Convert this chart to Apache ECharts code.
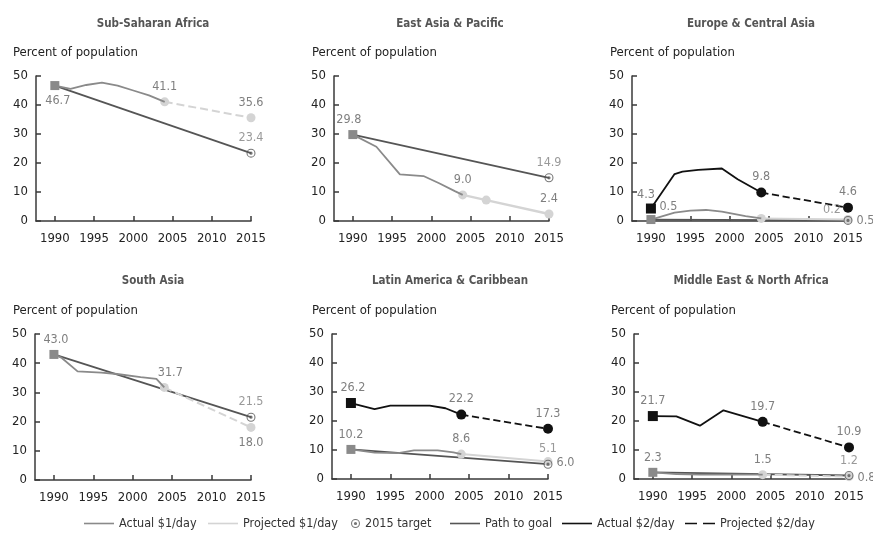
<!DOCTYPE html>
<html>
<head>
<meta charset="utf-8">
<script src="https://cdn.jsdelivr.net/npm/echarts@6/dist/echarts.min.js"></script>
<style>
html,body{margin:0;padding:0;background:#fff;}
#chart{width:873px;height:533px;}
</style>
</head>
<body>
<div id="chart"></div>
<script>
// ---------- DATA ----------
const panelTitles = ['Sub-Saharan Africa','East Asia & Pacific','Europe & Central Asia','South Asia','Latin America & Caribbean','Middle East & North Africa'];
const yAxisTitle = 'Percent of population';
const xTickYears = [1990, 1995, 2000, 2005, 2010, 2015];
const yTicks = [0, 10, 20, 30, 40, 50];
const legendNames = ['Actual $1/day','Projected $1/day','2015 target','Path to goal','Actual $2/day','Projected $2/day'];

// Sub-Saharan Africa
const ssaActual1 = [[1990,46.7],[1992,45.6],[1994,46.9],[1996,47.7],[1998,46.7],[2000,45.0],[2002,43.3],[2004,41.1]];
const ssaProj1   = [[2004,41.1],[2015,35.6]];
const ssaPath    = [[1990,46.7],[2015,23.4]];
const ssaTarget  = [[2015,23.4]];

// East Asia & Pacific
const eapActual1 = [[1990,29.8],[1993,25.6],[1996,16.1],[1999,15.5],[2001,13.0],[2003,10.3],[2004,9.0]];
const eapProj1   = [[2004,9.0],[2007,7.2],[2015,2.4]];
const eapPath    = [[1990,29.8],[2015,14.9]];
const eapTarget  = [[2015,14.9]];

// Europe & Central Asia
const ecaActual2 = [[1990,4.3],[1993,16.2],[1994,17.0],[1996,17.6],[1999,18.1],[2001,14.4],[2004,9.8]];
const ecaProj2   = [[2004,9.8],[2015,4.6]];
const ecaActual1 = [[1990,0.5],[1993,2.9],[1995,3.6],[1997,3.8],[1999,3.2],[2002,1.7],[2004,0.9]];
const ecaProj1   = [[2004,0.9],[2015,0.5]];
const ecaPath    = [[1990,0.5],[2015,0.2]];
const ecaTarget  = [[2015,0.2]];

// South Asia
const sasActual1 = [[1990,43.0],[1991,41.8],[1993,37.2],[1996,36.8],[1998,36.3],[2001,35.2],[2003,34.6],[2004,31.7]];
const sasProj1   = [[2004,31.7],[2015,18.0]];
const sasPath    = [[1990,43.0],[2015,21.5]];
const sasTarget  = [[2015,21.5]];

// Latin America & Caribbean
const lacActual2 = [[1990,26.2],[1993,24.1],[1995,25.3],[2000,25.3],[2002,24.4],[2004,22.2]];
const lacProj2   = [[2004,22.2],[2015,17.3]];
const lacActual1 = [[1990,10.2],[1993,9.1],[1996,8.9],[1998,9.9],[2001,9.9],[2003,9.2],[2004,8.6]];
const lacProj1   = [[2004,8.6],[2015,6.0]];
const lacPath    = [[1990,10.2],[2015,5.1]];
const lacTarget  = [[2015,5.1]];

// Middle East & North Africa
const mnaActual2 = [[1990,21.7],[1993,21.6],[1996,18.4],[1999,23.7],[2004,19.7]];
const mnaProj2   = [[2004,19.7],[2015,10.9]];
const mnaActual1 = [[1990,2.3],[1993,1.7],[1996,1.5],[2004,1.5]];
const mnaProj1   = [[2004,1.5],[2015,0.8]];
const mnaPath    = [[1990,2.3],[2015,1.2]];
const mnaTarget  = [[2015,1.2]];

// ---------- STYLE / LAYOUT ----------
const FONT = '"DejaVu Sans Condensed", "Liberation Sans Narrow", "DejaVu Sans", sans-serif';
const C_ACT1 = '#8a8a8a', C_PROJ1 = '#d4d4d4', C_PATH = '#555555', C_ACT2 = '#111111', C_LABEL = '#7f7f7f';
const LW = 1.8;
const TARGET_SYMBOL = 'path://M10,0A10,10,0,1,1,-10,0A10,10,0,1,1,10,0ZM7.6,0A7.6,7.6,0,1,0,-7.6,0A7.6,7.6,0,1,0,7.6,0ZM3.6,0A3.6,3.6,0,1,1,-3.6,0A3.6,3.6,0,1,1,3.6,0Z';
const ICON_LINE = 'path://M0,0H30V1.6H0Z';
const ICON_DASH = 'path://M0,0H12V1.6H0ZM18,0H30V1.6H18Z';

const grids = [
  {left:36,  top:76,  width:215, height:145},
  {left:334, top:76,  width:215, height:145},
  {left:632, top:76,  width:216, height:145},
  {left:35,  top:334, width:216, height:146},
  {left:332, top:334, width:216, height:145},
  {left:634, top:334, width:215, height:145}
];
const titlePos = [
  {cx:153, ty:18, px:13, py:46},
  {cx:450, ty:18, px:312, py:46},
  {cx:751, ty:18, px:610, py:46},
  {cx:153, ty:275, px:13, py:304},
  {cx:450, ty:275, px:312, py:304},
  {cx:751, ty:275, px:611, py:304}
];
const legendLayout = [
  {left:84,  icon:ICON_LINE, w:30},
  {left:208, icon:ICON_LINE, w:30},
  {left:351, icon:TARGET_SYMBOL, w:9},
  {left:450, icon:ICON_LINE, w:30},
  {left:562, icon:ICON_LINE, w:30},
  {left:685, icon:ICON_DASH, w:30}
];

const lab = (position, offset) => ({label:{show:true, position, offset: offset || [0,0]}});
const sqGray  = {symbol:'rect', symbolSize:9, itemStyle:{color:C_ACT1}};
const sqBlack = {symbol:'rect', symbolSize:10, itemStyle:{color:C_ACT2}};
const dotLt   = {symbol:'circle', symbolSize:9, itemStyle:{color:C_PROJ1}};
const dotBk   = {symbol:'circle', symbolSize:10, itemStyle:{color:C_ACT2}};

function items(arr, marks) {
  return arr.map((d, i) => {
    const it = {value: d};
    const m = marks && marks[i];
    if (m) m.forEach(o => Object.assign(it, JSON.parse(JSON.stringify(o))));
    return it;
  });
}
const fmt = p => Number(p.value[1]).toFixed(1);
function line(name, g, arr, color, width, type, marks, z) {
  return {
    name, type:'line', xAxisIndex:g, yAxisIndex:g, symbol:'none', showSymbol:true, showAllSymbol:true,
    smooth:false, animation:false, z: z || 2,
    lineStyle:{color, width, type: type || 'solid'}, itemStyle:{color},
    label:{show:false, formatter:fmt, color:C_LABEL, fontSize:12.5, fontFamily:FONT, distance:4},
    emphasis:{disabled:true},
    data: items(arr, marks)
  };
}
function target(g, arr, marks) {
  return {
    name:'2015 target', type:'scatter', xAxisIndex:g, yAxisIndex:g, symbol:TARGET_SYMBOL, symbolSize:9,
    animation:false, z:5, itemStyle:{color:C_PATH},
    label:{show:false, formatter:fmt, color:C_LABEL, fontSize:12.5, fontFamily:FONT, distance:4},
    emphasis:{disabled:true},
    data: items(arr, marks)
  };
}

const series = [
  // 0 Sub-Saharan Africa
  line('Path to goal', 0, ssaPath, C_PATH, LW),
  line('Actual $1/day', 0, ssaActual1, C_ACT1, LW, 'solid', {0:[sqGray, lab('bottom',[3,0])]}, 3),
  line('Projected $1/day', 0, ssaProj1, C_PROJ1, 2, 'dashed', {0:[dotLt, lab('top')], 1:[dotLt, lab('top')]}),
  target(0, ssaTarget, {0:[lab('top')]}),
  // 1 East Asia & Pacific
  line('Path to goal', 1, eapPath, C_PATH, LW),
  line('Actual $1/day', 1, eapActual1, C_ACT1, LW, 'solid', {0:[sqGray, lab('top',[-4,0])]}, 3),
  line('Projected $1/day', 1, eapProj1, C_PROJ1, 2.5, 'solid', {0:[dotLt, lab('top')], 1:[dotLt], 2:[dotLt, lab('top')]}),
  target(1, eapTarget, {0:[lab('top')]}),
  // 2 Europe & Central Asia
  line('Path to goal', 2, ecaPath, C_PATH, LW),
  line('Actual $1/day', 2, ecaActual1, C_ACT1, LW, 'solid', {0:[sqGray, lab('right',[0,-13])], 6:[lab('top',[-12,0])]}, 3),
  line('Projected $1/day', 2, ecaProj1, C_PROJ1, 2, 'solid', {0:[dotLt], 1:[dotLt, lab('right',[0,1])]}),
  target(2, ecaTarget, {0:[lab('top',[-16,4])]}),
  line('Actual $2/day', 2, ecaActual2, C_ACT2, LW, 'solid', {0:[sqBlack, lab('top',[-5,2])]}, 4),
  line('Projected $2/day', 2, ecaProj2, C_ACT2, LW, 'dashed', {0:[dotBk, lab('top')], 1:[dotBk, lab('top')]}, 4),
  // 3 South Asia
  line('Path to goal', 3, sasPath, C_PATH, LW),
  line('Actual $1/day', 3, sasActual1, C_ACT1, LW, 'solid', {0:[sqGray, lab('top',[2,0])]}, 3),
  line('Projected $1/day', 3, sasProj1, C_PROJ1, 2, 'dashed', {0:[dotLt, lab('top',[6,0])], 1:[dotLt, lab('bottom')]}),
  target(3, sasTarget, {0:[lab('top')]}),
  // 4 Latin America & Caribbean
  line('Path to goal', 4, lacPath, C_PATH, LW),
  line('Actual $1/day', 4, lacActual1, C_ACT1, LW, 'solid', {0:[sqGray, lab('top')]}, 3),
  line('Projected $1/day', 4, lacProj1, C_PROJ1, 2, 'solid', {0:[dotLt, lab('top')], 1:[dotLt, lab('right',[0,1])]}),
  target(4, lacTarget, {0:[lab('top')]}),
  line('Actual $2/day', 4, lacActual2, C_ACT2, LW, 'solid', {0:[sqBlack, lab('top',[2,0])]}, 4),
  line('Projected $2/day', 4, lacProj2, C_ACT2, LW, 'dashed', {0:[dotBk, lab('top')], 1:[dotBk, lab('top')]}, 4),
  // 5 Middle East & North Africa
  line('Path to goal', 5, mnaPath, C_PATH, LW),
  line('Actual $1/day', 5, mnaActual1, C_ACT1, LW, 'solid', {0:[sqGray, lab('top')]}, 3),
  line('Projected $1/day', 5, mnaProj1, C_PROJ1, 2, 'dashed', {0:[dotLt, lab('top')], 1:[dotLt, lab('right',[0,1])]}),
  target(5, mnaTarget, {0:[lab('top')]}),
  line('Actual $2/day', 5, mnaActual2, C_ACT2, LW, 'solid', {0:[sqBlack, lab('top')]}, 4),
  line('Projected $2/day', 5, mnaProj2, C_ACT2, LW, 'dashed', {0:[dotBk, lab('top')], 1:[dotBk, lab('top')]}, 4)
];

const titles = [];
panelTitles.forEach((t, i) => {
  const p = titlePos[i];
  titles.push({text:t, left:p.cx, top:p.ty, textAlign:'center', padding:0,
    textStyle:{fontFamily:FONT, fontSize:11.5, fontWeight:'bold', color:'#555'}});
  titles.push({text:yAxisTitle, left:p.px, top:p.py, padding:0,
    textStyle:{fontFamily:FONT, fontSize:13, fontWeight:'normal', color:'#222'}});
});

const axisLineStyle = {color:'#3a3a3a', width:1.5};
const xAxes = grids.map((g, i) => ({
  type:'value', gridIndex:i, min:1987.6, max:2015,
  axisLine:{show:true, onZero:false, lineStyle:axisLineStyle},
  axisTick:{show:true, inside:true, length:5, customValues:xTickYears, lineStyle:axisLineStyle},
  axisLabel:{customValues:xTickYears, margin:11, color:'#222', fontSize:13, fontFamily:FONT, formatter: v => String(v)},
  splitLine:{show:false}
}));
const yAxes = grids.map((g, i) => ({
  type:'value', gridIndex:i, min:0, max:50, interval:10,
  axisLine:{show:true, lineStyle:axisLineStyle},
  axisTick:{show:true, inside:true, length:5, lineStyle:axisLineStyle},
  axisLabel:{margin:8, color:'#222', fontSize:13, fontFamily:FONT, customValues:yTicks},
  splitLine:{show:false}
}));

const legends = legendNames.map((n, i) => ({
  data:[{name:n, icon:legendLayout[i].icon}],
  left:legendLayout[i].left, top:517, padding:0,
  itemWidth:legendLayout[i].w, itemHeight:legendLayout[i].w === 30 ? 10 : 9, itemGap:0,
  selectedMode:false,
  textStyle:{fontFamily:FONT, fontSize:12.5, color:'#333'}
}));

const chart = echarts.init(document.getElementById('chart'), null, {renderer:'canvas'});
chart.setOption({
  backgroundColor:'#fff',
  animation:false,
  title: titles,
  grid: grids,
  xAxis: xAxes,
  yAxis: yAxes,
  legend: legends,
  series
});
</script>
</body>
</html>
